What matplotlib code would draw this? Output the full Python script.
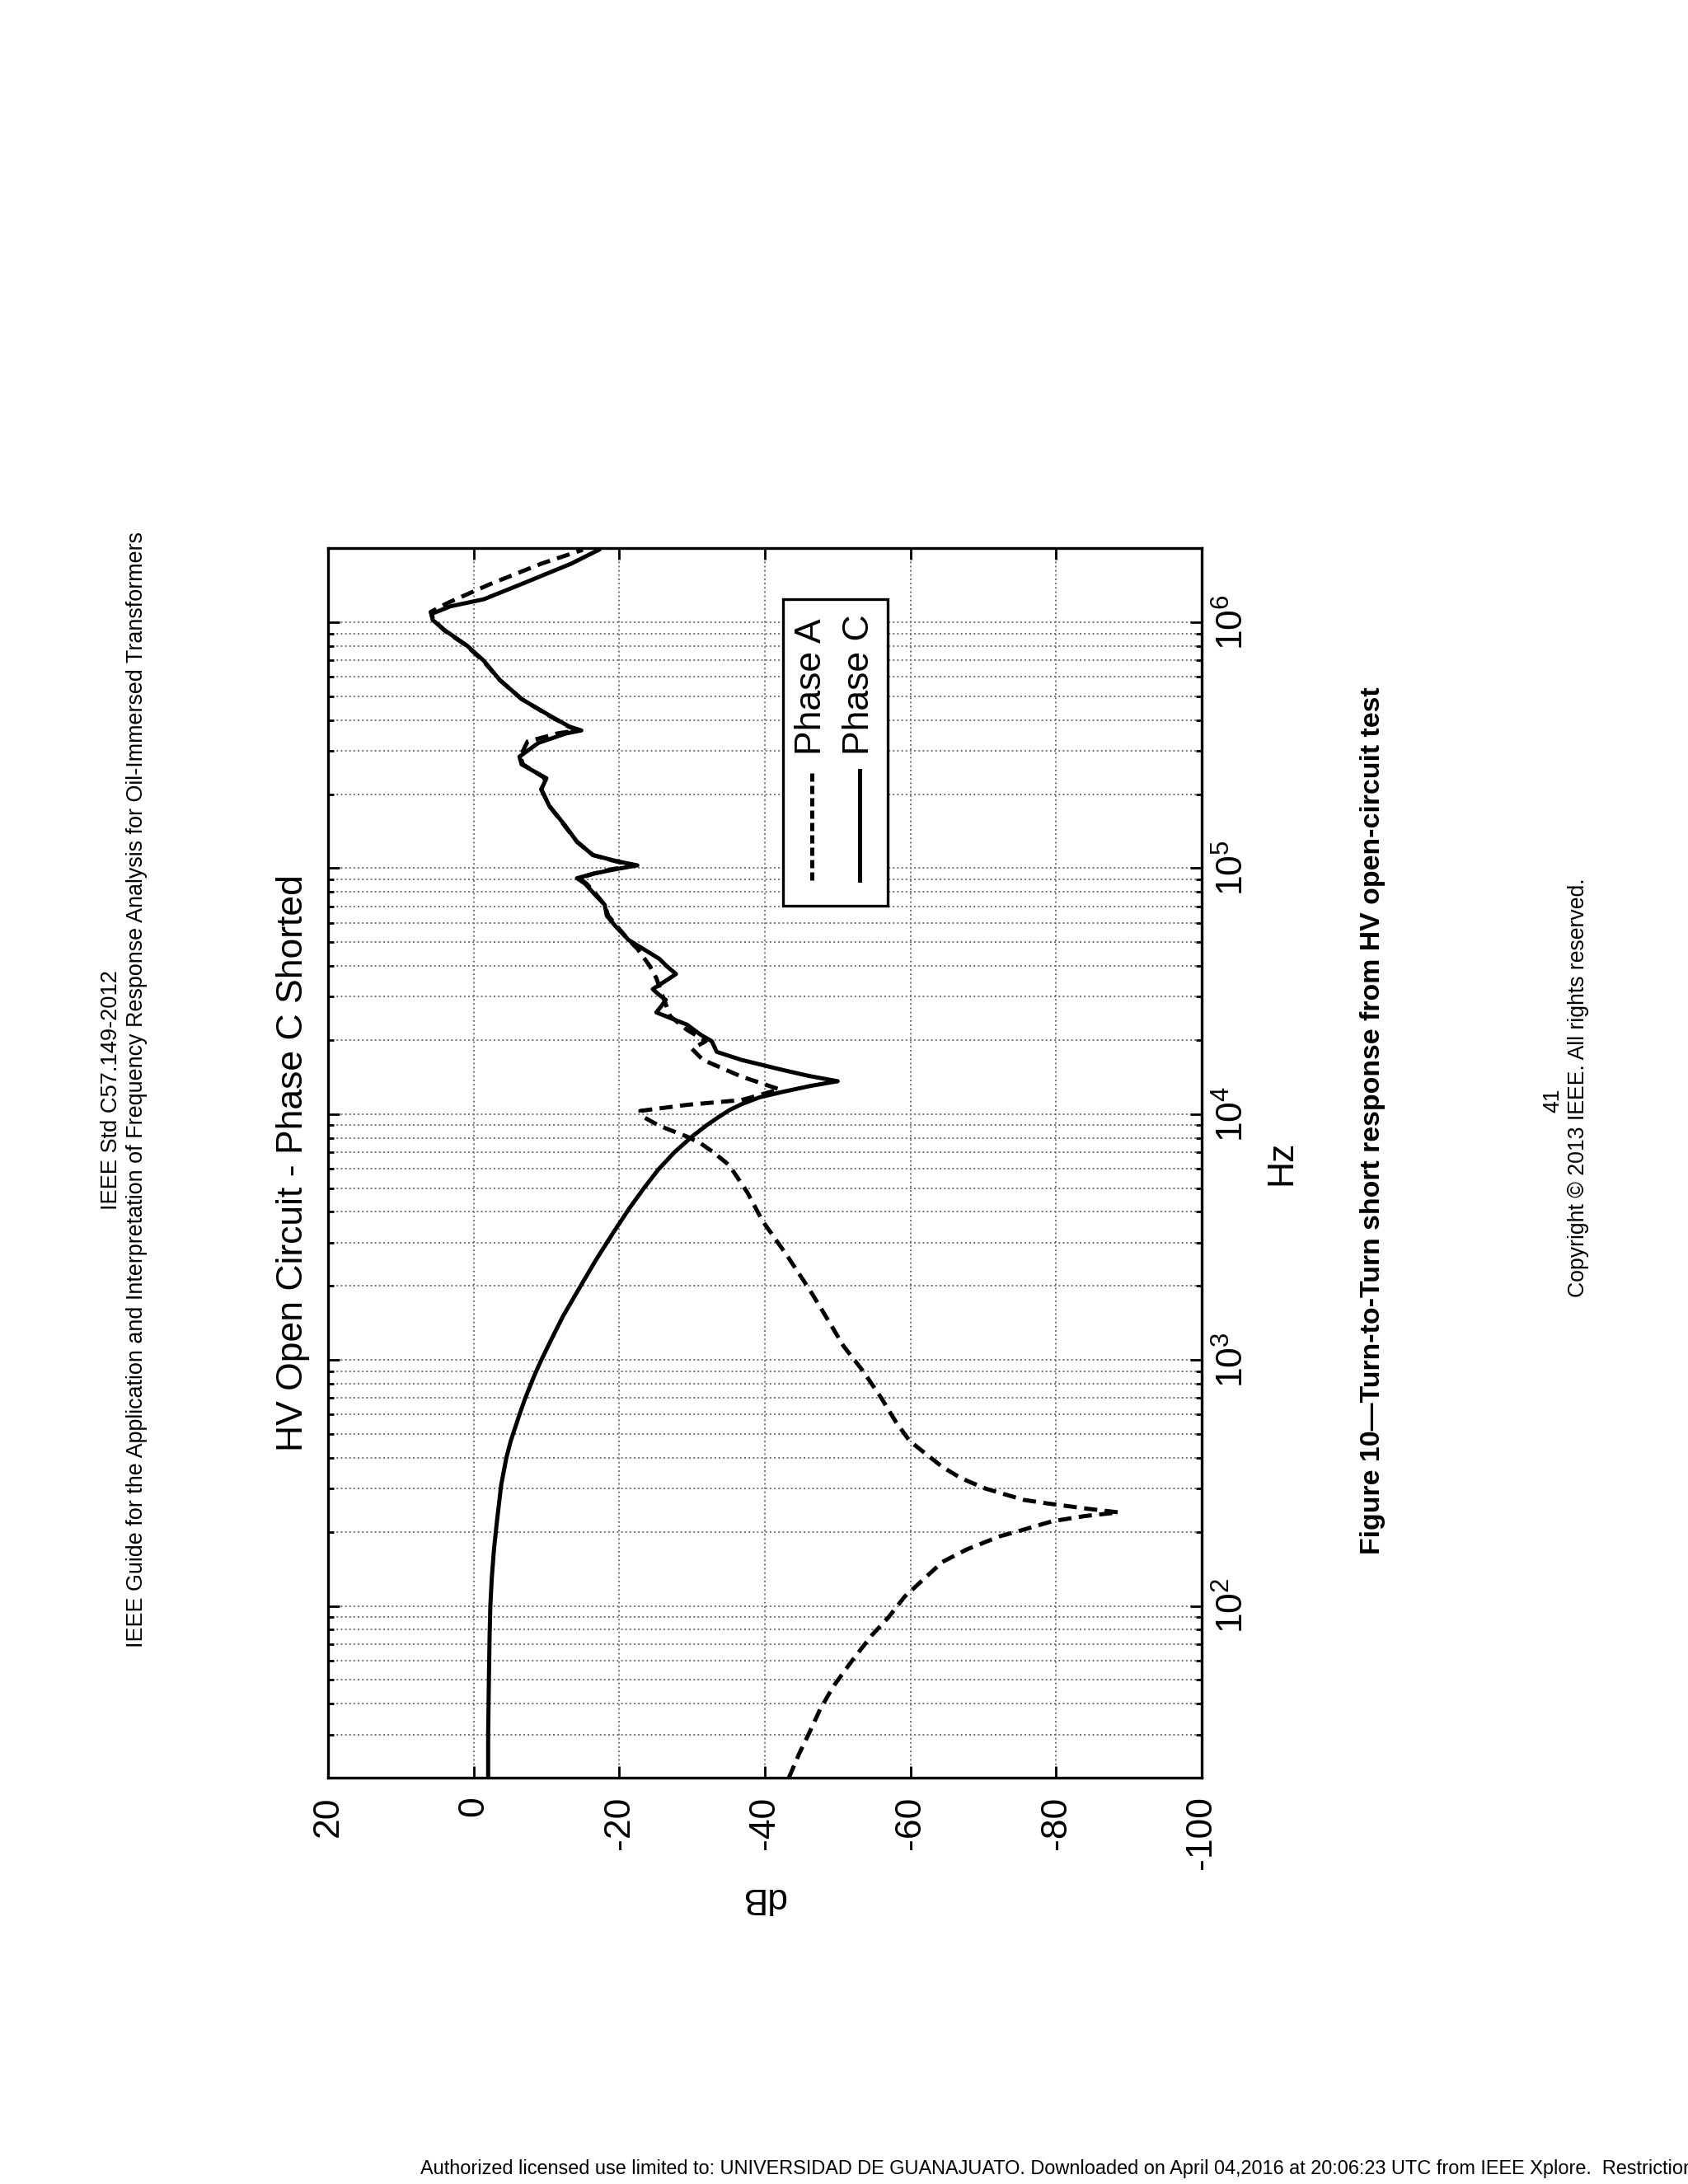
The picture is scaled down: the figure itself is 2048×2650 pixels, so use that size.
import matplotlib.pyplot as plt
from matplotlib.patches import Rectangle
from matplotlib.ticker import LogLocator, NullFormatter

plt.rcParams["font.family"] = ["Liberation Sans", "DejaVu Sans"]
plt.rcParams["mathtext.fontset"] = "custom"
plt.rcParams["mathtext.rm"] = "Liberation Sans"
plt.rcParams["mathtext.it"] = "Liberation Sans:italic"
plt.rcParams["mathtext.bf"] = "Liberation Sans:bold"

# Phase A (dashed): frequency in Hz, magnitude in dB
freq_a = [20, 25, 30, 38, 47, 60, 76, 90, 109, 130, 151, 170, 192, 200, 221,
          232, 240, 248, 261, 270, 300, 330, 367, 420, 468, 560, 700, 900,
          1140, 1500, 1920, 2700, 3670, 4800, 6200, 7000, 7600, 8100, 8960,
          9700, 10300, 10900, 11400, 12600, 14200, 16600, 18400, 19800, 22000,
          25000, 30000, 35700, 40000, 47000, 51000, 58000, 64000, 71000,
          79000, 86500, 91000, 95000, 99000, 102600, 107000, 113000, 128000,
          150000, 179000, 209000, 232000, 264000, 284000, 327000, 353000,
          363000, 377000, 418000, 487000, 582000, 697000, 803000, 925000,
          1020000, 1100000, 1200000, 1430000, 1730000, 1970000]
db_a = [-43.3, -44.7, -46.0, -47.6, -49.4, -52.0, -54.7, -57.0, -59.2, -62.0,
        -64.4, -67.8, -72.3, -74.5, -79.5, -84.0, -88.6, -84.5, -78.8, -75.5,
        -70.3, -67.0, -64.4, -61.9, -59.9, -58.0, -56.0, -53.5, -50.8, -48.4,
        -46.2, -42.9, -39.7, -37.6, -35.1, -32.9, -31.2, -29.3, -25.5, -23.4,
        -22.9, -29.3, -36.8, -42.0, -36.8, -31.5, -30.0, -31.9, -29.3, -27.0,
        -26.0, -25.1, -24.2, -22.5, -21.3, -19.7, -18.5, -18.0, -16.7, -15.5,
        -14.5, -16.5, -19.0, -22.0, -19.3, -16.4, -14.2, -12.4, -10.4, -9.3,
        -9.8, -6.8, -6.4, -7.4, -11.5, -14.2, -13.0, -10.3, -6.6, -3.6, -1.3,
        1.0, 4.0, 5.5, 5.9, 3.5, -2.3, -9.3, -15.0]

# Phase C (solid)
freq_c = [20, 30, 50, 76, 100, 130, 170, 220, 312, 400, 468, 600, 700, 858,
          1000, 1250, 1510, 2000, 2550, 3300, 4140, 5000, 5960, 7000, 8100,
          9000, 9700, 10400, 11000, 11700, 12300, 13000, 13600, 14300, 15100,
          16600, 17900, 19800, 21000, 23100, 25900, 27500, 29100, 30500,
          32200, 35000, 37100, 40000, 42800, 51000, 58000, 64000, 71000,
          79000, 86500, 91000, 95000, 99000, 102600, 107000, 113000, 128000,
          150000, 179000, 209000, 232000, 264000, 284000, 323000, 353000,
          363000, 377000, 418000, 487000, 582000, 697000, 803000, 925000,
          1020000, 1080000, 1160000, 1240000, 1430000, 1730000, 1970000]
db_c = [-2.0, -2.0, -2.1, -2.2, -2.3, -2.5, -2.8, -3.2, -3.8, -4.5, -5.1,
        -6.3, -7.1, -8.3, -9.3, -10.9, -12.3, -14.7, -16.8, -19.2, -21.4,
        -23.4, -25.4, -27.6, -30.0, -32.0, -33.6, -35.2, -36.9, -39.3, -42.4,
        -46.2, -50.0, -46.0, -42.5, -36.8, -33.4, -32.7, -31.2, -29.3, -25.1,
        -25.8, -26.4, -25.5, -24.6, -26.5, -27.8, -26.5, -25.5, -21.3, -19.5,
        -18.3, -18.0, -16.5, -15.3, -14.2, -16.5, -19.5, -22.5, -19.5, -16.4,
        -14.2, -12.5, -10.4, -9.3, -10.0, -6.6, -6.3, -8.9, -12.7, -14.8,
        -13.1, -10.4, -6.6, -3.6, -1.4, 0.9, 3.9, 5.6, 5.8, 3.2, -1.4, -6.6,
        -13.4, -17.2]

db_ticks = [20, 0, -20, -40, -60, -80, -100]
freq_ticks = [1e2, 1e3, 1e4, 1e5, 1e6]
freq_tick_labels = ["$10^{2}$", "$10^{3}$", "$10^{4}$", "$10^{5}$", "$10^{6}$"]

title = "HV Open Circuit - Phase C Shorted"
header_1 = "IEEE Std C57.149-2012"
header_2 = ("IEEE Guide for the Application and Interpretation of Frequency "
            "Response Analysis for Oil-Immersed Transformers")
caption = "Figure 10\u2014Turn-to-Turn short response from HV open-circuit test"
page_no = "41"
copyright_line = "Copyright \u00a9 2013 IEEE. All rights reserved."
footer = ("Authorized licensed use limited to: UNIVERSIDAD DE GUANAJUATO. "
          "Downloaded on April 04,2016 at 20:06:23 UTC from IEEE Xplore.  "
          "Restrictions apply.")

fig = plt.figure(figsize=(10.24, 13.25), dpi=200)
ax = fig.add_axes([0.1943, 0.1860, 0.5176, 0.5630])

# the page is turned: dB runs across, frequency runs up
ax.plot(db_c, freq_c, color="black", lw=1.8, solid_joinstyle="round")
ax.plot(db_a, freq_a, color="black", lw=1.8, ls=(0, (3.2, 1.8)))

ax.set_yscale("log")
ax.set_ylim(20, 2e6)
ax.set_xlim(20, -100)
ax.set_xticks(db_ticks)
ax.set_xticklabels([str(v) for v in db_ticks])
ax.set_yticks(freq_ticks)
ax.set_yticklabels(freq_tick_labels)
ax.yaxis.set_minor_locator(LogLocator(base=10, subs=range(2, 10), numticks=50))
ax.yaxis.set_minor_formatter(NullFormatter())

ax.grid(True, which="major", axis="x", ls=":", color="0.45", lw=0.7)
ax.grid(True, which="both", axis="y", ls=":", color="0.45", lw=0.7)

ax.tick_params(axis="both", which="both", direction="in", top=True,
               right=True, left=True, bottom=True, labelleft=False,
               labelright=True, labelsize=16, width=1)
ax.tick_params(axis="both", which="major", length=5)
ax.tick_params(axis="both", which="minor", length=2.5)
ax.tick_params(axis="x", labelrotation=90, pad=8)
ax.tick_params(axis="y", labelrotation=90, pad=6)
for lab in ax.get_yticklabels():
    lab.set_verticalalignment("center")
for sp in ax.spines.values():
    sp.set_linewidth(1.2)

ax.set_xlabel("dB", fontsize=16, rotation=180)
ax.xaxis.set_label_coords(0.498, -0.084)
ax.set_ylabel("Hz", fontsize=16)
ax.yaxis.set_label_position("right")
ax.yaxis.set_label_coords(1.072, 0.5)

ax.text(-0.040, 0.5, title, rotation=90, transform=ax.transAxes,
        ha="center", va="center", fontsize=16)

# legend drawn by hand so that it turns with the page
ax.add_patch(Rectangle((0.521, 0.709), 0.1196, 0.2494, transform=ax.transAxes,
                       facecolor="white", edgecolor="black", lw=1.2, zorder=5))
ax.plot([0.5538, 0.5538], [0.730, 0.819], transform=ax.transAxes,
        color="black", lw=1.8, ls=(0, (2, 1)), zorder=6)
ax.plot([0.6085, 0.6085], [0.730, 0.819], transform=ax.transAxes,
        color="black", lw=1.8, zorder=6)
ax.text(0.5538, 0.832, "Phase A", rotation=90, transform=ax.transAxes,
        ha="center", va="bottom", fontsize=16, zorder=6)
ax.text(0.6085, 0.832, "Phase C", rotation=90, transform=ax.transAxes,
        ha="center", va="bottom", fontsize=16, zorder=6)

# page text around the figure
fig.text(0.066, 0.501, header_1, rotation=90, ha="center", va="center",
         fontsize=9.8)
fig.text(0.081, 0.501, header_2, rotation=90, ha="center", va="center",
         fontsize=9.7)
fig.text(0.813, 0.487, caption, rotation=90, ha="center", va="center",
         fontsize=12.2, fontweight="bold")
fig.text(0.920, 0.496, page_no, rotation=90, ha="center", va="center",
         fontsize=9.6)
fig.text(0.935, 0.502, copyright_line, rotation=90, ha="center",
         va="center", fontsize=9.6)
fig.text(0.249, 0.0068, footer, ha="left", va="center", fontsize=8.45)

fig.savefig("out.png", dpi=200)
